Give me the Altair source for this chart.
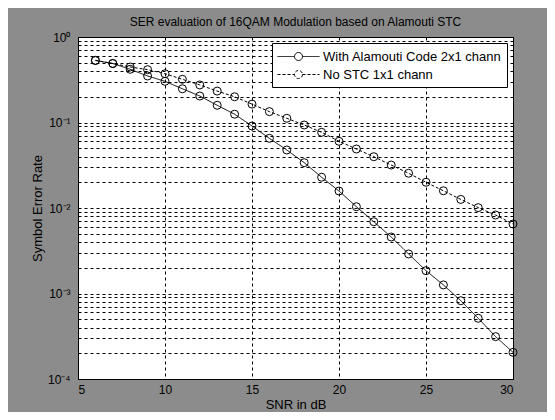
import altair as alt
import pandas as pd

# ---- data ----
snr = list(range(6, 31))
ser_alamouti = [0.53, 0.49, 0.419, 0.35, 0.303, 0.248, 0.204, 0.159, 0.125, 0.091,
                0.0653, 0.0477, 0.0339, 0.0229, 0.0158, 0.01035, 0.00691, 0.00458,
                0.0029, 0.00185, 0.00126, 0.000824, 0.000513, 0.000313, 0.000205]
ser_nostc = [0.534, 0.49, 0.446, 0.415, 0.372, 0.32, 0.275, 0.233, 0.20, 0.164,
             0.134, 0.112, 0.0935, 0.0768, 0.0603, 0.049, 0.0398, 0.0318, 0.0255,
             0.020, 0.0159, 0.0126, 0.0101, 0.00828, 0.0065]
series_names = ["With Alamouti Code 2x1 chann", "No STC 1x1 chann"]
x_ticks = [5, 10, 15, 20, 25, 30]
y_ticks = [0.0001, 0.0002, 0.0003, 0.0004, 0.0005, 0.0006, 0.0007, 0.0008, 0.0009,
           0.001, 0.002, 0.003, 0.004, 0.005, 0.006, 0.007, 0.008, 0.009,
           0.01, 0.02, 0.03, 0.04, 0.05, 0.06, 0.07, 0.08, 0.09,
           0.1, 0.2, 0.3, 0.4, 0.5, 0.6, 0.7, 0.8, 0.9, 1.0]

df = pd.DataFrame({
    "snr": snr + snr,
    "ser": ser_alamouti + ser_nostc,
    "series": [series_names[0]] * len(snr) + [series_names[1]] * len(snr),
})

FONT = "Liberation Sans"
GRID_DASH = [3, 3]

label_expr = (
    "(abs(log(datum.value)/LN10 - round(log(datum.value)/LN10)) > 0.001) ? '' : "
    "(round(log(datum.value)/LN10) == 0 ? '10\u2070' : "
    "round(log(datum.value)/LN10) == -1 ? '10\u207b\u00b9' : "
    "round(log(datum.value)/LN10) == -2 ? '10\u207b\u00b2' : "
    "round(log(datum.value)/LN10) == -3 ? '10\u207b\u00b3' : '10\u207b\u2074')"
)

x_enc = alt.X(
    "snr:Q",
    scale=alt.Scale(domain=[5, 30], nice=False, zero=False),
    axis=alt.Axis(values=x_ticks, title="SNR in dB", grid=True, gridDash=GRID_DASH,
                  gridColor="black", gridOpacity=1, gridWidth=1, ticks=False,
                  domain=False, labelPadding=5, titlePadding=3, format="d"),
)
y_enc = alt.Y(
    "ser:Q",
    scale=alt.Scale(type="log", domain=[0.0001, 1], nice=False),
    axis=alt.Axis(values=y_ticks, labelExpr=label_expr, title="Symbol Error Rate",
                  grid=True, gridDash=GRID_DASH, gridColor="black", gridOpacity=1,
                  gridWidth=1, ticks=False, domain=False, labelPadding=8,
                  titlePadding=3, labelOverlap=False),
)

# legend sample: a 42px line with an open circle in its middle (r = 8px units)
legend_symbol = ("M-1,0L1.125,0M2.125,0L4.25,0"
                 "M2.125,0A0.5,0.5 0 1 1 1.125,0A0.5,0.5 0 1 1 2.125,0")

lines = alt.Chart(df).mark_line(color="black", strokeWidth=1).encode(
    x=x_enc,
    y=y_enc,
    strokeDash=alt.StrokeDash(
        "series:N",
        scale=alt.Scale(domain=series_names, range=[[1, 0], [3, 2]]),
        legend=alt.Legend(
            title=None, orient="none", legendX=194, legendY=6, direction="vertical",
            fillColor="white", strokeColor="black", padding=5,
            symbolType=legend_symbol, symbolSize=256, symbolStrokeWidth=1,
            symbolStrokeColor="black", symbolFillColor="transparent",
            labelFontSize=13, labelFont=FONT, labelColor="black", labelOffset=29,
            rowPadding=2, labelLimit=400,
        ),
    ),
)

points = alt.Chart(df).mark_point(
    shape="circle", filled=False, color="black", size=64, strokeWidth=1, opacity=1
).encode(x=x_enc, y=y_enc, detail="series:N")

chart = alt.layer(lines, points).properties(
    width=435,
    height=342,
    autosize=alt.AutoSizeParams(type="none"),
    padding={"left": 70, "top": 29, "right": 34, "bottom": 33},
    title=alt.TitleParams(
        "SER evaluation of 16QAM Modulation based on Alamouti STC",
        font=FONT, fontSize=12, fontWeight="normal", color="black",
        anchor="middle", offset=2,
    ),
).configure(
    background="#8c8c8c",
).configure_view(
    fill="white", stroke="black", strokeWidth=1,
).configure_axis(
    labelFont=FONT, titleFont=FONT, labelFontSize=12, titleFontSize=13,
    labelColor="black", titleColor="black", titleFontWeight="normal",
)

chart.save("out.html", embed_options={"renderer": "svg", "actions": False})
